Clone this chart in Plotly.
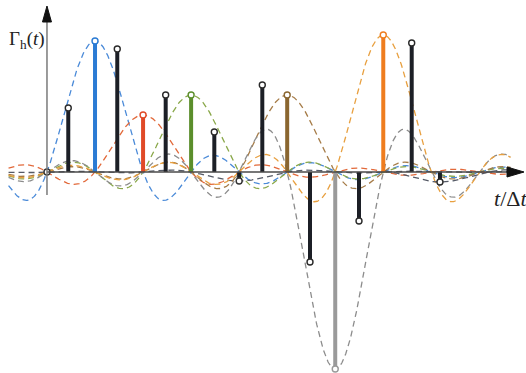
import numpy as np
import plotly.graph_objects as go

# Samples Γ_h(nΔt) at the sampling instants (time in units of Δt)
sample_t = [0, 1, 2, 3, 4, 5, 6, 7]
sample_v = [0.0, 1.31, 0.57, 0.77, -0.09, 0.77, -1.97, 1.37]
sample_stem = ["#333333", "#2b7bd4", "#e04a28", "#5b8e2b", "#1c1f26", "#8a6630", "#9a9a9a", "#ef7d1f"]
sample_curve = ["#777777", "#4a8ad8", "#e2693a", "#8aa84a", "#555a66", "#a67c48", "#8c8c8c", "#e8a040"]

# Interpolated values between the samples
mid_t = [0.443, 1.463, 2.471, 3.483, 4.482, 5.475, 6.495, 7.592, 8.18]
mid_v = [0.64, 1.23, 0.77, 0.40, 0.87, -0.90, -0.49, 1.29, -0.10]

# Plot window (units of Δt horizontally, signal units vertically)
X_RANGE = [-0.978, 9.971]
Y_RANGE = [-2.01, 1.72]

fig = go.Figure()

# Dashed sinc kernel for every sample
tt = np.linspace(-0.8, 9.65, 900)
for t0, v, c in zip(sample_t, sample_v, sample_curve):
    if v == 0:
        continue
    fig.add_trace(go.Scatter(x=tt, y=v * np.sinc(tt - t0), mode="lines",
                             line=dict(color=c, width=1.3, dash="6px,4px"),
                             hoverinfo="skip", showlegend=False))
# small kernel for the last interpolated point
fig.add_trace(go.Scatter(x=tt[tt > 7.0], y=mid_v[-1] * np.sinc(tt[tt > 7.0] - mid_t[-1]), mode="lines",
                         line=dict(color="#555a66", width=1.3, dash="6px,4px"),
                         hoverinfo="skip", showlegend=False))

# Axes drawn as arrows
px_x = (X_RANGE[1] - X_RANGE[0]) / 526
px_y = (Y_RANGE[1] - Y_RANGE[0]) / 373
ax_col = "#4a4a4a"
fig.add_shape(type="line", x0=0, x1=X_RANGE[0] + 510 * px_x, y0=0, y1=0,
              line=dict(color=ax_col, width=1.5), layer="above")
fig.add_shape(type="line", x0=0, x1=0, y0=Y_RANGE[1] - 20 * px_y, y1=Y_RANGE[1] - 195 * px_y,
              line=dict(color="#7a7a7a", width=1.5), layer="above")
# arrow heads
xa = X_RANGE[0] + 507 * px_x
xt = X_RANGE[0] + 524 * px_x
fig.add_shape(type="path",
              path=f"M {xa} {5*px_y} L {xt} 0 L {xa} {-5*px_y} Z",
              fillcolor="#111111", line=dict(color="#111111", width=1), layer="above")
ya = Y_RANGE[1] - 22 * px_y
yt = Y_RANGE[1] - 6 * px_y
fig.add_shape(type="path",
              path=f"M {-4.5*px_x} {ya} L 0 {yt} L {4.5*px_x} {ya} Z",
              fillcolor="#111111", line=dict(color="#111111", width=1), layer="above")

# Stems
def stems(ts, vs, colors, width):
    for t0, v, c in zip(ts, vs, colors):
        if v == 0:
            continue
        fig.add_trace(go.Scatter(x=[t0, t0], y=[0, v], mode="lines",
                                 line=dict(color=c, width=width),
                                 hoverinfo="skip", showlegend=False))

stems(sample_t, sample_v, sample_stem, 4)
stems(mid_t, mid_v, ["#1c1f26"] * len(mid_t), 4)

# Open circles at stem tips
fig.add_trace(go.Scatter(x=sample_t, y=sample_v, mode="markers",
                         marker=dict(size=6, color="white",
                                     line=dict(color=[c if i not in (0, 4) else "#333333"
                                                      for i, c in enumerate(sample_stem)], width=1.4)),
                         hoverinfo="skip", showlegend=False))
fig.add_trace(go.Scatter(x=mid_t, y=mid_v, mode="markers",
                         marker=dict(size=6, color="white", line=dict(color="#2a2a2a", width=1.4)),
                         hoverinfo="skip", showlegend=False))

# Axis labels
fig.add_annotation(x=X_RANGE[0] + 7 * px_x, y=Y_RANGE[1] - 40 * px_y, xanchor="left", yanchor="middle",
                   text="Γ<sub>h</sub>(<i>t</i>)", showarrow=False,
                   font=dict(family="Liberation Serif", size=19, color="#222222"))
fig.add_annotation(x=X_RANGE[0] + 492 * px_x, y=Y_RANGE[1] - 198 * px_y, xanchor="left", yanchor="middle",
                   text="<i>t</i>/Δ<i>t</i>", showarrow=False,
                   font=dict(family="Liberation Serif", size=22, color="#222222"))

fig.update_layout(width=526, height=373, margin=dict(l=0, r=0, t=0, b=0),
                  paper_bgcolor="white", plot_bgcolor="white", showlegend=False,
                  xaxis=dict(range=X_RANGE, visible=False, fixedrange=True),
                  yaxis=dict(range=Y_RANGE, visible=False, fixedrange=True))

fig.write_html("out.html")
